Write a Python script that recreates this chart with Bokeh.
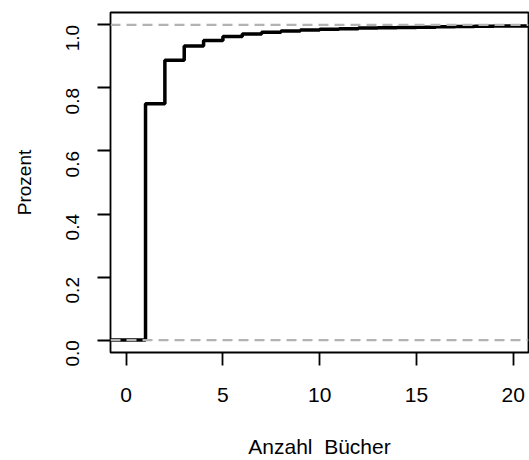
import math
from bokeh.plotting import figure
from bokeh.models import Range1d, FixedTicker, Span
from bokeh.embed import file_html
from bokeh.resources import INLINE

# ECDF of "Anzahl Bücher": value of F(x) for x in [anzahl[i], anzahl[i+1])
anzahl = [-1, 1, 2, 3, 4, 5, 6, 7, 8, 9, 10, 11, 12, 13, 14, 15, 16, 17, 18, 19, 20, 21]
anteil = [0.0, 0.750, 0.888, 0.933, 0.951, 0.963, 0.971, 0.977, 0.981, 0.984, 0.986,
          0.988, 0.990, 0.991, 0.992, 0.993, 0.994, 0.995, 0.996, 0.997, 0.997, 0.998]
x_ticks = [0, 5, 10, 15, 20]
y_ticks = [0.0, 0.2, 0.4, 0.6, 0.8, 1.0]
y_tick_labels = ["0.0", "0.2", "0.4", "0.6", "0.8", "1.0"]
ref_levels = [0.0, 1.0]

FONT = "Liberation Sans"

p = figure(width=529, height=460, output_backend="svg", toolbar_location=None,
           x_range=Range1d(-0.81, 20.79), y_range=Range1d(-0.0395, 1.0395),
           min_border_left=110, min_border_right=1, min_border_top=12,
           min_border_bottom=107)
p.xgrid.visible = False
p.ygrid.visible = False
p.outline_line_color = "black"
p.outline_line_width = 1.8
p.background_fill_color = "white"
p.border_fill_color = "white"

for lvl in ref_levels:
    p.add_layout(Span(location=lvl, dimension="width", line_color="#b3b3b3",
                      line_width=2.2, line_dash="10 6"))

p.step(anzahl, anteil, mode="after", line_color="black", line_width=3.5)

xa = p.xaxis[0]
xa.ticker = FixedTicker(ticks=x_ticks)
xa.axis_line_color = None
xa.major_tick_in = 0
xa.major_tick_out = 13
xa.major_tick_line_width = 1.8
xa.major_tick_line_color = "black"
xa.minor_tick_line_color = None
xa.major_label_text_font = FONT
xa.major_label_text_font_size = "21px"
xa.major_label_text_color = "black"
xa.major_label_standoff = 22
xa.axis_label = "Anzahl\u00a0 Bücher"
xa.axis_label_text_font = FONT
xa.axis_label_text_font_size = "21px"
xa.axis_label_text_font_style = "normal"
xa.axis_label_text_color = "black"
xa.axis_label_standoff = 30

ya = p.yaxis[0]
ya.ticker = FixedTicker(ticks=y_ticks)
ya.major_label_overrides = {t: l for t, l in zip(y_ticks, y_tick_labels)}
ya.axis_line_color = None
ya.major_tick_in = 0
ya.major_tick_out = 13
ya.major_tick_line_width = 1.8
ya.major_tick_line_color = "black"
ya.minor_tick_line_color = None
ya.major_label_orientation = math.pi / 2
ya.major_label_text_font = FONT
ya.major_label_text_font_size = "19px"
ya.major_label_text_color = "black"
ya.major_label_standoff = 25
ya.axis_label = "Prozent"
ya.axis_label_text_font = FONT
ya.axis_label_text_font_size = "19px"
ya.axis_label_text_font_style = "normal"
ya.axis_label_text_color = "black"
ya.axis_label_standoff = 22

open("out.html", "w").write(file_html(p, INLINE))
